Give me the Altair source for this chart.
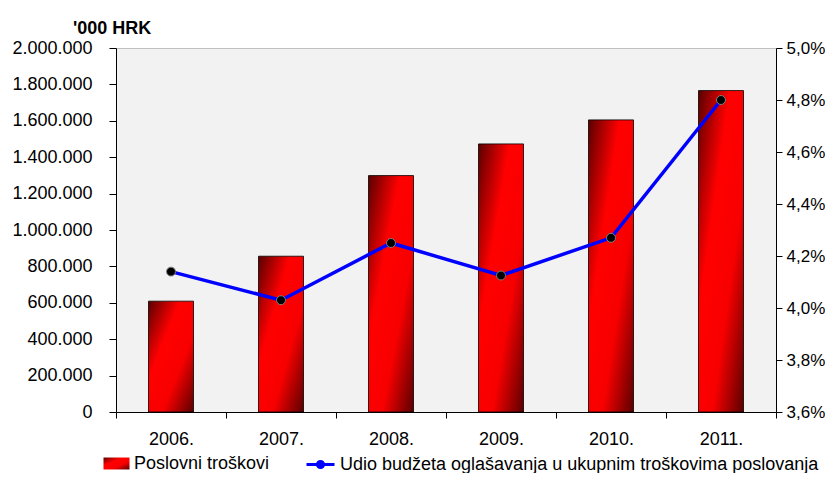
import altair as alt
import pandas as pd

years = ["2006.", "2007.", "2008.", "2009.", "2010.", "2011."]
costs = [609000, 856000, 1299000, 1473000, 1605000, 1766000]
share = [4.14, 4.03, 4.25, 4.125, 4.27, 4.80]
left_ticks = [0, 200000, 400000, 600000, 800000, 1000000, 1200000, 1400000, 1600000, 1800000, 2000000]
right_ticks = [3.6, 3.8, 4.0, 4.2, 4.4, 4.6, 4.8, 5.0]
bar_name = "Poslovni troškovi"
line_name = "Udio budžeta oglašavanja u ukupnim troškovima poslovanja"

df = pd.DataFrame({
    "year": years,
    "cost": costs,
    "share": share,
    "bar_series": [bar_name] * len(years),
    "line_series": [line_name] * len(years),
})

FONT = "Liberation Sans"

grad = alt.Gradient(
    gradient="linear",
    x1=0, y1=0, x2=1, y2=1,
    stops=[
        alt.GradientStop(offset=0, color="#5a0000"),
        alt.GradientStop(offset=0.35, color="#ff0000"),
        alt.GradientStop(offset=0.65, color="#f80000"),
        alt.GradientStop(offset=1, color="#5a0000"),
    ],
)

x_enc = alt.X(
    "year:N",
    sort=years,
    scale=alt.Scale(paddingInner=0, paddingOuter=0),
    axis=alt.Axis(
        title=None, labelAngle=0, tickBand="extent", tickSize=6,
        labelPadding=12, labelFontSize=18, labelFont=FONT,
        domainColor="black", tickColor="black", labelColor="black",
    ),
)

bars = alt.Chart(df).mark_bar(
    fill=grad, stroke="black", strokeWidth=0.8, width=45
).encode(
    x=x_enc,
    y=alt.Y(
        "cost:Q",
        scale=alt.Scale(domain=[0, 2000000], nice=False),
        axis=alt.Axis(
            title=None, orient="left", values=left_ticks, tickSize=7,
            labelPadding=17, labelFontSize=18, labelFont=FONT,
            labelExpr="replace(format(datum.value, ','), regexp(',', 'g'), '.')",
            domainColor="black", tickColor="black", labelColor="black", grid=False,
        ),
    ),
    opacity=alt.Opacity(
        "bar_series:O",
        scale=alt.Scale(range=[1, 1]),
        legend=alt.Legend(
            title=None, orient="none", legendX=-13, legendY=402, padding=0,
            symbolType="M-1,-0.46H1V0.46H-1Z", symbolSize=676,
            symbolFillColor="#e00000", symbolStrokeColor="black", symbolStrokeWidth=0.8,
            labelFont=FONT, labelFontSize=18, labelColor="black", labelOffset=4,
            labelLimit=700,
        ),
    ),
)

right_scale = alt.Scale(domain=[3.6, 5.0], nice=False, zero=False)
right_axis = alt.Axis(
    title=None, orient="right", values=right_ticks, tickSize=6,
    labelPadding=4, labelFontSize=17, labelFont=FONT,
    labelExpr="replace(format(datum.value, '.1f'), '.', ',') + '%'",
    domainColor="black", tickColor="black", labelColor="black", grid=False,
)

line = alt.Chart(df).mark_line(color="#0000ff", strokeWidth=3.5).encode(
    x=alt.X("year:N", sort=years),
    y=alt.Y("share:Q", scale=right_scale, axis=right_axis),
    opacity=alt.Opacity(
        "line_series:O",
        scale=alt.Scale(range=[1, 1]),
        legend=alt.Legend(
            title=None, orient="none", legendX=189, legendY=401, padding=0,
            symbolType="M-1,0H1M-0.22,0A0.22,0.22 0 1,1 0.22,0A0.22,0.22 0 1,1 -0.22,0Z",
            symbolSize=784, symbolStrokeColor="#0000ff", symbolFillColor="black",
            symbolStrokeWidth=3,
            labelFont=FONT, labelFontSize=18, labelColor="black", labelOffset=4,
            labelLimit=700,
        ),
    ),
)

points = alt.Chart(df).mark_point(
    filled=True, fill="black", stroke="#808080", strokeWidth=1, size=80, opacity=1
).encode(
    x=alt.X("year:N", sort=years),
    y=alt.Y("share:Q", scale=right_scale, axis=right_axis),
)

right = alt.layer(line, points)

chart = alt.layer(bars, right).resolve_scale(
    y="independent", opacity="independent"
).resolve_legend(opacity="independent").properties(
    width=660,
    height=364,
    autosize=alt.AutoSizeParams(type="none"),
    padding={"left": 108, "top": 40, "right": 49, "bottom": 61},
    title=alt.TitleParams(
        "'000 HRK", anchor="start", frame="group", fontSize=18, fontWeight="bold",
        font=FONT, color="black", dx=-43, offset=1,
    ),
    background="white",
).configure_view(
    fill="#f2f2f2", stroke="#c0c0c0", strokeWidth=1
)

chart.save("out.html", embed_options={"renderer": "svg", "actions": False})
